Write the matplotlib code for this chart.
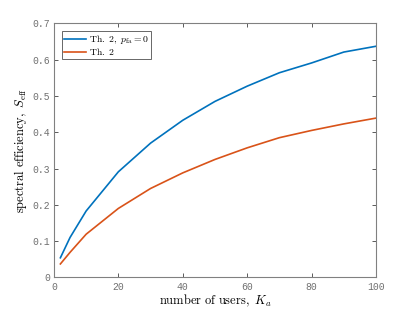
import matplotlib
matplotlib.use("Agg")
import matplotlib.pyplot as plt

# ---------- data ----------
users = [2, 5, 10, 20, 30, 40, 50, 60, 70, 80, 90, 100]
se_pfa0 = [0.054, 0.110, 0.183, 0.291, 0.370, 0.433, 0.485, 0.527, 0.564, 0.591, 0.621, 0.637]
se_th2 = [0.037, 0.069, 0.119, 0.190, 0.245, 0.288, 0.325, 0.357, 0.385, 0.405, 0.423, 0.439]

legend_labels = [r"$\mathrm{Th.\ 2,}\ p_{\mathrm{fa}}=0$", r"$\mathrm{Th.\ 2}$"]
xticks = [0, 20, 40, 60, 80, 100]
yticks = [0, 0.1, 0.2, 0.3, 0.4, 0.5, 0.6, 0.7]

plt.rcParams["mathtext.fontset"] = "cm"

fig = plt.figure(figsize=(4.15, 3.12), dpi=100)
ax = fig.add_axes([0.130, 0.111, 0.776, 0.814])

ax.plot(users, se_pfa0, color="#0072BD", lw=1.2, label=legend_labels[0])
ax.plot(users, se_th2, color="#D95319", lw=1.2, label=legend_labels[1])

ax.set_xlim(0, 100)
ax.set_ylim(0, 0.7)
ax.set_xticks(xticks)
ax.set_yticks(yticks)
ax.set_xticklabels([str(t) for t in xticks])
ax.set_yticklabels(["0"] + [f"{t:.1f}" for t in yticks[1:]])

for lbl in ax.get_xticklabels() + ax.get_yticklabels():
    lbl.set_family("Liberation Mono")
    lbl.set_fontsize(7)
    lbl.set_color("#707070")

ax.tick_params(direction="in", length=3, width=0.6, color="#404040",
               top=True, right=True, pad=3)
for s in ax.spines.values():
    s.set_color("#808080")
    s.set_linewidth(0.8)

ax.set_xlabel(r"$\mathrm{number\ of\ users,}\ K_a$", fontsize=9, labelpad=1)
ax.set_ylabel(r"$\mathrm{spectral\ efficiency,}\ S_{\mathrm{eff}}$", fontsize=9, labelpad=2)

leg = ax.legend(loc="upper left", fontsize=7, frameon=True, fancybox=False,
                borderpad=0.2, handlelength=2.3, handletextpad=0.3,
                labelspacing=0.0, borderaxespad=0.8)
leg.get_frame().set_edgecolor("#404040")
leg.get_frame().set_linewidth(0.7)

fig.savefig("out.png", dpi=100)
